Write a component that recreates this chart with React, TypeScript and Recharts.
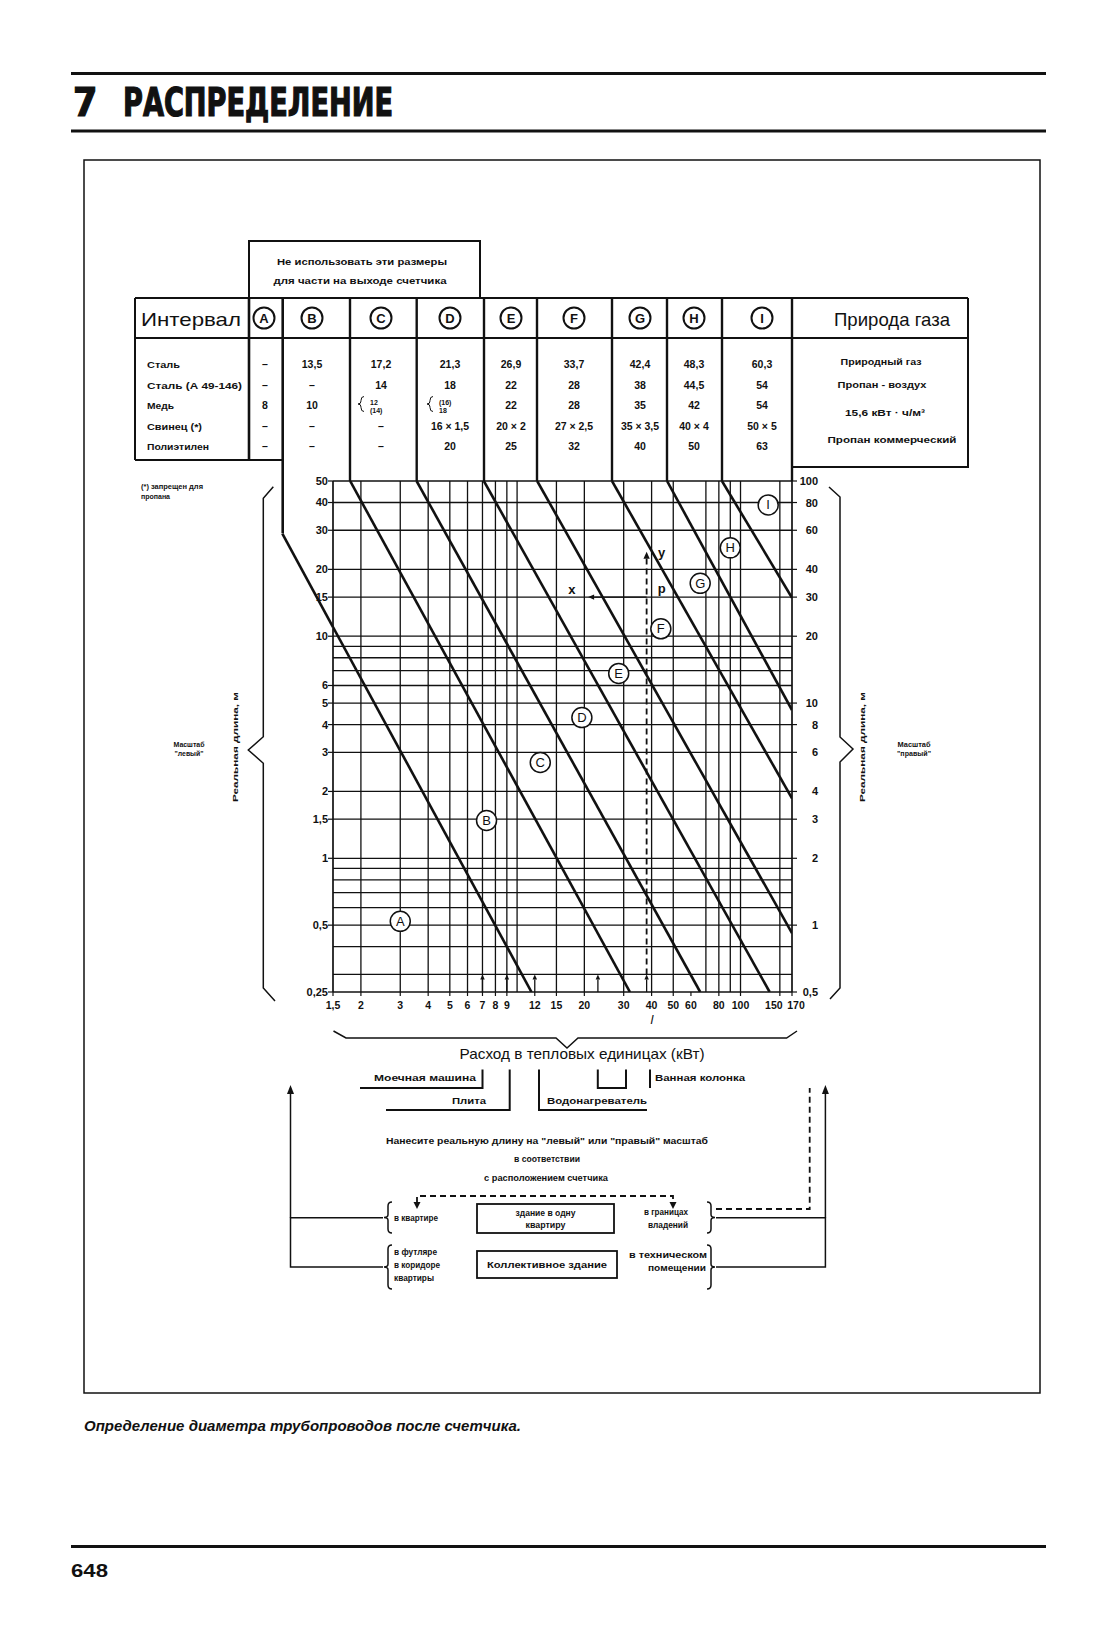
import React from "react";
import { LineChart, Line, XAxis, YAxis, ReferenceLine, ReferenceDot } from "recharts";

const FONT = '"Liberation Sans", Arial, Helvetica, sans-serif';
const NARROW = '"Liberation Sans Narrow", "Arial Narrow", "DejaVu Sans Condensed", "Liberation Sans", sans-serif';
const INK = "#111";

// ---- chart scales (kW on x, real length in m on y) ----
const xTicks = [1.5, 2, 3, 4, 5, 6, 7, 8, 9, 12, 15, 20, 30, 40, 50, 60, 80, 100, 150, 170];
const leftTicks = [0.25, 0.5, 1, 1.5, 2, 3, 4, 5, 6, 10, 15, 20, 30, 40, 50];
const rightTicks = [0.5, 1, 2, 3, 4, 6, 8, 10, 20, 30, 40, 60, 80, 100];
const gridX = [2, 3, 4, 5, 6, 7, 8, 9, 10, 15, 20, 30, 40, 50, 70, 80, 90, 100, 150];
const gridY = [0.3, 0.4, 0.5, 0.6, 0.7, 0.8, 0.9, 1, 1.5, 2, 3, 4, 5, 6, 7, 8, 9, 10, 15, 20, 30, 40];

// ---- boundary lines between intervals (left scale) ----
const lineAB = [{ x: 1.5, y: 11 }, { x: 11.6, y: 0.25 }];
const lineABLead = [{ x: 0.89, y: 29 }, { x: 1.5, y: 11 }];
const lineBC = [{ x: 1.79, y: 50 }, { x: 32, y: 0.25 }];
const lineCD = [{ x: 3.55, y: 50 }, { x: 66, y: 0.25 }];
const lineDE = [{ x: 7.1, y: 50 }, { x: 135, y: 0.25 }];
const lineEF = [{ x: 12.3, y: 50 }, { x: 170, y: 0.46 }];
const lineFG = [{ x: 26.6, y: 50 }, { x: 170, y: 1.86 }];
const lineGH = [{ x: 46.9, y: 50 }, { x: 170, y: 4.65 }];
const lineHI = [{ x: 82.6, y: 50 }, { x: 170, y: 14.9 }];
const boundaries = [lineAB, lineBC, lineCD, lineDE, lineEF, lineFG, lineGH, lineHI];

const intervalMarks = [
  { name: "A", x: 3, y: 0.52 },
  { name: "B", x: 7.3, y: 1.48 },
  { name: "C", x: 12.7, y: 2.7 },
  { name: "D", x: 19.5, y: 4.3 },
  { name: "E", x: 28.5, y: 6.8 },
  { name: "F", x: 44, y: 10.8 },
  { name: "G", x: 66, y: 17.3 },
  { name: "H", x: 90, y: 25 },
  { name: "I", x: 133, y: 39 },
];

// appliances (kW) and the worked example
const applianceLoads = [7, 9, 12, 23];
const exampleLoad = 38;
const exampleLength = 15;
const exampleReadX = 20.8;
const exampleTop = 24;
const exampleNotes = [
  { t: "x", x: 17.6, y: 16.1 },
  { t: "p", x: 44.4, y: 16.4 },
  { t: "y", x: 44.4, y: 23.7 },
];

// ---- table ----
const columns = ["A", "B", "C", "D", "E", "F", "G", "H", "I"];
const rowLabels = ["Сталь", "Сталь (А 49-146)", "Медь", "Свинец (*)", "Полиэтилен"];
const steel = ["–", "13,5", "17,2", "21,3", "26,9", "33,7", "42,4", "48,3", "60,3"];
const steelA49 = ["–", "–", "14", "18", "22", "28", "38", "44,5", "54"];
const copper: (string | string[])[] = ["8", "10", ["12", "(14)"], ["(16)", "18"], "22", "28", "35", "42", "54"];
const leadPipe = ["–", "–", "–", "16 × 1,5", "20 × 2", "27 × 2,5", "35 × 3,5", "40 × 4", "50 × 5"];
const polyethylene = ["–", "–", "–", "20", "25", "32", "40", "50", "63"];
const tableRows = [steel, steelA49, copper, leadPipe, polyethylene];
const gasLines = ["Природный газ", "Пропан - воздух", "15,6 кВт · ч/м³", "Пропан коммерческий"];

// layout helpers (page pixels)
const colX = [265, 312, 381, 450, 511, 574, 640, 694, 762];
const borderX = [350, 416.7, 484, 537, 612, 667, 722, 792];
const rowY = [367.5, 388.5, 408.5, 429.5, 450];
const rowW = [33, 95, 27, 55, 62];

const fmt = (v: number) => String(v).replace(".", ",");

type TP = {
  x: number; y: number; s?: number; w?: number; a?: "start" | "middle" | "end";
  b?: boolean; i?: boolean; f?: string; k?: number; children: React.ReactNode;
};
const T = ({ x, y, s = 9, w, a = "start", b = true, i = false, f = FONT, k = 0, children }: TP) => (
  <text
    x={x} y={y} fontSize={s} fontWeight={b ? 700 : 400} fontStyle={i ? "italic" : "normal"}
    textAnchor={a} fontFamily={f} fill={INK}
    {...(k ? { stroke: INK, strokeWidth: k } : {})}
    {...(w ? { textLength: w, lengthAdjust: "spacingAndGlyphs" } : {})}
  >
    {children}
  </text>
);

function brace(x: number, y1: number, y2: number, dir: number, w = 4) {
  const m = (y1 + y2) / 2;
  const d = w * dir;
  return `M${x - d},${y1} Q${x},${y1} ${x},${y1 + 4} L${x},${m - 3} Q${x},${m} ${x + d},${m} Q${x},${m} ${x},${m + 3} L${x},${y2 - 4} Q${x},${y2} ${x - d},${y2}`;
}

const arrowShape = (head = 6) => (p: any) => {
  const { x1, y1, x2, y2 } = p;
  const a = Math.atan2(y2 - y1, x2 - x1);
  const bx = x2 - head * Math.cos(a);
  const by = y2 - head * Math.sin(a);
  const w = head * 0.45;
  const nx = -Math.sin(a) * w;
  const ny = Math.cos(a) * w;
  return (
    <g>
      <line x1={x1} y1={y1} x2={bx} y2={by} stroke={INK} strokeWidth={p.strokeWidth} strokeDasharray={p.strokeDasharray} />
      <polygon points={`${x2},${y2} ${bx + nx},${by + ny} ${bx - nx},${by - ny}`} fill={INK} />
    </g>
  );
};

const letterShape = (name: string) => (p: any) => (
  <g>
    <circle cx={p.cx} cy={p.cy} r={10} fill="#fff" stroke={INK} strokeWidth={1.5} />
    <text x={p.cx} y={p.cy + 4.5} textAnchor="middle" fontSize={13} fontFamily={FONT} fill={INK}>{name}</text>
  </g>
);

const noteShape = (t: string) => (p: any) => (
  <text x={p.cx} y={p.cy + 4} textAnchor="middle" fontSize={13} fontWeight={700} fontFamily={FONT} fill={INK}>{t}</text>
);

const tickStyle = { fontSize: 11, fontWeight: 700, fill: INK, fontFamily: FONT };

const rightTick = (p: any) => (
  <text x={p.x + 21} y={p.y} dy={4} textAnchor="end" {...tickStyle}>{fmt(p.payload.value)}</text>
);

// the last two kW labels are printed pushed apart
const xTick = (p: any) => {
  const v = p.payload.value;
  const dx = v === 150 ? -6 : v === 170 ? 4 : 0;
  return (
    <text x={p.x + dx} y={p.y} dy={8} textAnchor="middle" {...tickStyle} fontSize={10.5}>{fmt(v)}</text>
  );
};

function Chart() {
  return (
    <LineChart width={680} height={580} margin={{ top: 36, right: 48, bottom: 3, left: 93 }}>
      <XAxis
        dataKey="x" type="number" scale="log" domain={[1.5, 170]} allowDataOverflow
        ticks={xTicks} interval={0} axisLine={false}
        tickLine={{ stroke: INK, strokeWidth: 1.2 }} tickSize={4} tickMargin={5} height={30}
        tick={xTick}
      />
      <YAxis
        yAxisId="left" type="number" scale="log" domain={[0.25, 50]} allowDataOverflow
        ticks={leftTicks} interval={0} tickFormatter={fmt} axisLine={false}
        tickLine={{ stroke: INK, strokeWidth: 1.2 }} tickSize={5} tickMargin={0} width={40} tick={tickStyle}
      />
      <YAxis
        yAxisId="right" orientation="right" type="number" scale="log" domain={[0.5, 100]} allowDataOverflow
        ticks={rightTicks} interval={0} axisLine={false}
        tickLine={{ stroke: INK, strokeWidth: 1.2 }} tickSize={5} tickMargin={0} width={40} tick={rightTick}
      />
      {gridY.map((v) => (
        <ReferenceLine key={"gy" + v} yAxisId="left" y={v} stroke={INK} strokeWidth={1.3} />
      ))}
      {gridX.map((v) => (
        <ReferenceLine key={"gx" + v} yAxisId="left" x={v} stroke={INK} strokeWidth={1.3} />
      ))}
      <ReferenceLine yAxisId="left" y={0.25} stroke={INK} strokeWidth={1.7} />
      <ReferenceLine yAxisId="left" y={50} stroke={INK} strokeWidth={1.7} />
      <ReferenceLine yAxisId="left" x={1.5} stroke={INK} strokeWidth={1.7} />
      <ReferenceLine yAxisId="left" x={170} stroke={INK} strokeWidth={1.7} />

      <ReferenceLine yAxisId="left" segment={lineABLead} ifOverflow="visible" stroke={INK} strokeWidth={2.6} />
      {boundaries.map((d, i) => (
        <Line
          key={"b" + i} data={d} dataKey="y" yAxisId="left" type="linear"
          stroke={INK} strokeWidth={2.6} dot={false} activeDot={false} isAnimationActive={false}
        />
      ))}

      {applianceLoads.map((v) => (
        <ReferenceLine
          key={"ap" + v} yAxisId="left" segment={[{ x: v, y: 0.25 }, { x: v, y: 0.3 }]}
          stroke={INK} strokeWidth={1.3} shape={arrowShape(5)}
        />
      ))}
      <ReferenceLine
        yAxisId="left" segment={[{ x: exampleLoad, y: 0.25 }, { x: exampleLoad, y: 0.3 }]}
        stroke={INK} strokeWidth={1.3} shape={arrowShape(5)}
      />
      <ReferenceLine
        yAxisId="left" segment={[{ x: exampleLoad, y: 0.3 }, { x: exampleLoad, y: exampleTop }]}
        stroke={INK} strokeWidth={1.8} strokeDasharray="6 4" shape={arrowShape(7)}
      />
      <ReferenceLine
        yAxisId="left" segment={[{ x: exampleLoad, y: exampleLength }, { x: exampleReadX, y: exampleLength }]}
        stroke={INK} strokeWidth={1.3} shape={arrowShape(6)}
      />
      {exampleNotes.map((n) => (
        <ReferenceDot key={n.t} yAxisId="left" x={n.x} y={n.y} r={0} shape={noteShape(n.t)} />
      ))}
      {intervalMarks.map((m) => (
        <ReferenceDot key={m.name} yAxisId="left" x={m.x} y={m.y} r={10} shape={letterShape(m.name)} />
      ))}
    </LineChart>
  );
}

function Page() {
  const ln = { stroke: INK, strokeWidth: 2, fill: "none" };
  const thin = { stroke: INK, strokeWidth: 1.5, fill: "none" };
  return (
    <svg width={1118} height={1644} style={{ position: "absolute", left: 0, top: 0 }}>
      {/* heading */}
      <rect x={71} y={72} width={975} height={3} fill={INK} />
      <T x={73} y={116} s={39} f={NARROW} k={1.2}>7</T>
      <T x={123} y={116} s={39} f={NARROW} w={270} k={1.2}>РАСПРЕДЕЛЕНИЕ</T>
      <rect x={71} y={129.5} width={975} height={3} fill={INK} />
      <rect x={84} y={160} width={956} height={1233} {...thin} />

      {/* table frame */}
      <polyline points="249,298 249,241 480,241 480,298" {...ln} />
      <T x={362} y={265} s={9.5} a="middle" w={170}>Не использовать эти размеры</T>
      <T x={360} y={284} s={9.5} a="middle" w={173}>для части на выходе счетчика</T>
      <line x1={135} y1={298} x2={968} y2={298} {...ln} />
      <line x1={135} y1={338} x2={968} y2={338} {...ln} />
      <line x1={135} y1={298} x2={135} y2={460} {...ln} />
      <line x1={135} y1={460} x2={283.5} y2={460} {...ln} />
      <line x1={249} y1={298} x2={249} y2={460} stroke={INK} strokeWidth={2.6} />
      <line x1={282.7} y1={298} x2={282.7} y2={533.3} stroke={INK} strokeWidth={2.6} />
      {borderX.map((x) => (
        <line key={"bx" + x} x1={x} y1={298} x2={x} y2={481} stroke={INK} strokeWidth={2.4} />
      ))}
      <polyline points="792,467 968,467 968,298" {...ln} />

      <T x={141} y={326} s={19} b={false} w={100}>Интервал</T>
      <T x={892} y={326} s={19} b={false} a="middle" w={116}>Природа газа</T>
      {columns.map((c, i) => (
        <g key={"h" + c}>
          <circle cx={colX[i] - (i === 0 ? 1 : 0)} cy={318} r={10.5} fill="#fff" stroke={INK} strokeWidth={2} />
          <T x={colX[i] - (i === 0 ? 1 : 0)} y={323} s={13} a="middle">{c}</T>
        </g>
      ))}
      {rowLabels.map((l, r) => (
        <T key={"rl" + r} x={147} y={rowY[r]} s={9} w={rowW[r]}>{l}</T>
      ))}
      {tableRows.map((row, r) =>
        row.map((v, i) =>
          Array.isArray(v) ? (
            <g key={`c${r}-${i}`}>
              <path d={brace(colX[i] - 20, rowY[r] - 12, rowY[r] + 3, -1, 3)} stroke={INK} strokeWidth={1} fill="none" />
              <T x={colX[i] - 11} y={rowY[r] - 4} s={7}>{v[0]}</T>
              <T x={colX[i] - 11} y={rowY[r] + 4} s={7}>{v[1]}</T>
            </g>
          ) : (
            <T key={`c${r}-${i}`} x={colX[i]} y={rowY[r]} s={10.5} a="middle">{v}</T>
          )
        )
      )}
      <T x={881} y={365} s={9} a="middle" w={81}>{gasLines[0]}</T>
      <T x={882} y={388} s={9} a="middle" w={89}>{gasLines[1]}</T>
      <T x={885} y={416} s={9} a="middle" w={80}>{gasLines[2]}</T>
      <T x={892} y={443} s={9} a="middle" w={129}>{gasLines[3]}</T>

      {/* side notes and scale brackets */}
      <T x={141} y={489} s={8} w={62}>(*) запрещен для</T>
      <T x={141} y={499} s={8} w={29}>пропана</T>
      <polyline points="273.3,486.7 263.3,498.3 263.3,736.7 248.3,750 263.3,763.3 263.3,988 275,1001" {...thin} />
      <polyline points="829,487 840,497 840,737 853,749 840,762 840,988 830,999" {...thin} />
      <T x={189} y={747} s={7.5} a="middle" w={31}>Масштаб</T>
      <T x={189} y={756} s={7.5} a="middle" w={29}>"левый"</T>
      <T x={914} y={747} s={7.5} a="middle" w={33}>Масштаб</T>
      <T x={914} y={756} s={7.5} a="middle" w={34}>"правый"</T>
      <g transform="translate(238,747) rotate(-90)">
        <T x={0} y={0} s={8} a="middle" w={110}>Реальная длина, м</T>
      </g>
      <g transform="translate(865,747) rotate(-90)">
        <T x={0} y={0} s={8} a="middle" w={110}>Реальная длина, м</T>
      </g>

      {/* under the chart */}
      <T x={652} y={1024} s={13} b={false} i a="middle">l</T>
      <polyline points="333.5,1031 346,1038 556,1038 567,1048 578,1038 786.6,1038 797,1031" {...thin} />
      <T x={582} y={1059} s={14.5} b={false} a="middle" w={245}>Расход в тепловых единицах (кВт)</T>

      <T x={425} y={1081} s={9} a="middle" w={102}>Моечная машина</T>
      <polyline points="360,1088 482.5,1088 482.5,1069.5" {...ln} />
      <T x={469} y={1104} s={9} a="middle" w={34}>Плита</T>
      <polyline points="386,1110 509.7,1110 509.7,1069.5" {...ln} />
      <T x={547} y={1104} s={9} w={100}>Водонагреватель</T>
      <polyline points="539,1069.5 539,1110 647,1110" {...ln} />
      <T x={655} y={1081} s={9} w={90}>Ванная колонка</T>
      <polyline points="597.8,1069.5 597.8,1088 626,1088 626,1069.5" {...ln} />
      <line x1={650} y1={1069.5} x2={650} y2={1088} {...ln} />

      <T x={547} y={1144} s={9} a="middle" w={322}>Нанесите реальную длину на "левый" или "правый" масштаб</T>
      <T x={547} y={1162} s={9} a="middle" w={66}>в соответствии</T>
      <T x={546} y={1181} s={9} a="middle" w={124}>с расположением счетчика</T>

      <polyline points="417,1203 417,1196 673,1196 673,1203" stroke={INK} strokeWidth={1.8} strokeDasharray="6 4" fill="none" />
      <polygon points="413.5,1202 420.5,1202 417,1209" fill={INK} />
      <polygon points="669.5,1202 676.5,1202 673,1209" fill={INK} />

      <polyline points="383,1217.7 290.5,1217.7 290.5,1267 383,1267" {...thin} />
      <line x1={290.5} y1={1217.7} x2={290.5} y2={1093} {...thin} />
      <polygon points="287,1094 294,1094 290.5,1085" fill={INK} />
      <polyline points="716,1217.7 825.4,1217.7 825.4,1267 716,1267" {...thin} />
      <line x1={825.4} y1={1217.7} x2={825.4} y2={1093} {...thin} />
      <polygon points="821.9,1094 828.9,1094 825.4,1085" fill={INK} />
      <polyline points="716,1209 809.7,1209 809.7,1088" stroke={INK} strokeWidth={1.8} strokeDasharray="6 4" fill="none" />

      <path d={brace(388, 1202, 1233, -1)} {...thin} />
      <path d={brace(388, 1245, 1289, -1)} {...thin} />
      <path d={brace(711, 1202, 1233, 1)} {...thin} />
      <path d={brace(711, 1245, 1289, 1)} {...thin} />

      <T x={394} y={1221} s={9} w={44}>в квартире</T>
      <T x={394} y={1255} s={9} w={43}>в футляре</T>
      <T x={394} y={1268} s={9} w={46}>в коридоре</T>
      <T x={394} y={1281} s={9} w={40}>квартиры</T>
      <rect x={477} y={1204} width={137} height={29} stroke={INK} strokeWidth={1.8} fill="none" />
      <T x={545.5} y={1216} s={9} a="middle" w={60}>здание в одну</T>
      <T x={545.5} y={1228} s={9} a="middle" w={40}>квартиру</T>
      <rect x={477} y={1251} width={140} height={27} stroke={INK} strokeWidth={1.8} fill="none" />
      <T x={547} y={1268} s={9} a="middle" w={120}>Коллективное здание</T>
      <T x={666} y={1215} s={9} a="middle" w={44}>в границах</T>
      <T x={668} y={1228} s={9} a="middle" w={40}>владений</T>
      <T x={707} y={1258} s={9} a="end" w={78}>в техническом</T>
      <T x={706} y={1271} s={9} a="end" w={58}>помещении</T>

      {/* caption and folio */}
      <T x={84} y={1431} s={14.5} i w={437}>Определение диаметра трубопроводов после счетчика.</T>
      <rect x={71} y={1545} width={975} height={3} fill={INK} />
      <T x={71} y={1577} s={18} w={37}>648</T>
    </svg>
  );
}

export default function App() {
  return (
    <div style={{ position: "absolute", left: 0, top: 0, width: 1118, height: 1644, background: "#fff", fontFamily: FONT }}>
      <Page />
      <div style={{ position: "absolute", left: 200, top: 445 }}>
        <Chart />
      </div>
    </div>
  );
}
